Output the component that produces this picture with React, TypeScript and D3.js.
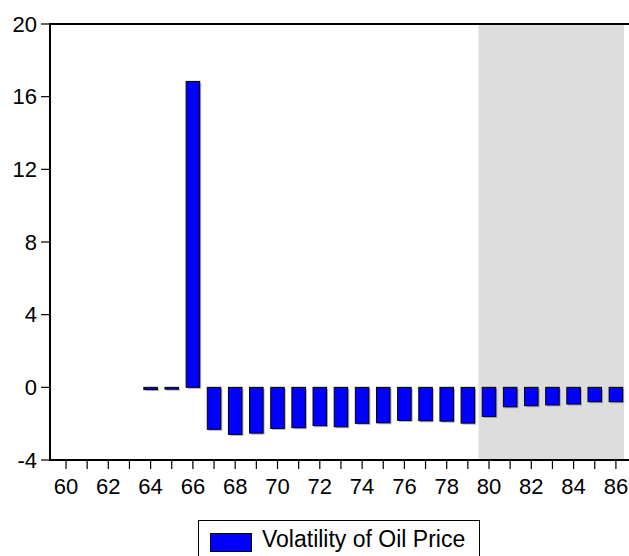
import * as d3 from 'd3';

const years = d3.range(60, 87);
const volatility: (number | null)[] = [
  null, null, null, null, -0.12, -0.1, 16.84, -2.31, -2.59, -2.52,
  -2.26, -2.22, -2.11, -2.17, -1.98, -1.95, -1.82, -1.84, -1.86, -1.97,
  -1.6, -1.07, -1.01, -0.97, -0.92, -0.79, -0.79,
];
const yTicks = [-4, 0, 4, 8, 12, 16, 20];
const xLabelYears = d3.range(60, 87, 2);
const shadeFrom = 80; // forecast period shaded
const seriesName = 'Volatility of Oil Price';

const width = 629;
const height = 556;
const font = '"Liberation Sans", Arial, sans-serif';

const App = () => {
  const left = 50;
  const top = 24;
  const bottom = 460;
  const plotRight = 624;

  const y = d3.scaleLinear().domain([-4, 20]).range([bottom, top]);
  const step = 21.15;
  const x = d3
    .scaleBand<number>()
    .domain(years)
    .range([66 - step / 2, 66 + step * 26 + step / 2])
    .paddingInner(0.36)
    .paddingOuter(0.18);
  const center = (yr: number) => (x(yr) ?? 0) + x.bandwidth() / 2;

  const shadeX = (center(shadeFrom - 1) + center(shadeFrom)) / 2;

  return (
    <svg
      width={width}
      height={height}
      style={{ position: 'absolute', left: 0, top: 0, background: '#fff' }}
      fontFamily={font}
    >
      {/* shaded period */}
      <rect x={shadeX} y={top} width={plotRight - shadeX} height={bottom - top} fill="#dddddd" />

      {/* bars */}
      {years.map((yr, i) => {
        const v = volatility[i];
        if (v == null) return null;
        const y0 = y(Math.max(0, v));
        const h = Math.max(Math.abs(y(v) - y(0)), 1);
        const bx = x(yr) ?? 0;
        return (
          <g key={yr}>
            <rect x={bx + 1.5} y={y0 + 1.5} width={x.bandwidth()} height={h} fill="#7a7a7a" opacity={0.6} />
            <rect x={bx} y={y0} width={x.bandwidth()} height={h} fill="#0000ff" stroke="#000" strokeWidth={1} />
          </g>
        );
      })}

      {/* frame */}
      <line x1={left} x2={width} y1={top} y2={top} stroke="#000" strokeWidth={2} />
      <line x1={left} x2={width} y1={bottom} y2={bottom} stroke="#000" strokeWidth={2} />
      <line x1={left} x2={left} y1={top - 1} y2={bottom + 1} stroke="#000" strokeWidth={2} />

      {/* y axis */}
      {yTicks.map((t) => (
        <g key={t}>
          <line x1={left - 9} x2={left} y1={y(t)} y2={y(t)} stroke="#000" strokeWidth={1.2} />
          <text x={37} y={y(t) + 7.5} textAnchor="end" fontSize={22} fill="#000">
            {t}
          </text>
        </g>
      ))}

      {/* x axis */}
      {years.map((yr) => (
        <line key={yr} x1={center(yr)} x2={center(yr)} y1={bottom} y2={bottom + 9} stroke="#000" strokeWidth={1.2} />
      ))}
      {xLabelYears.map((yr) => (
        <text key={yr} x={center(yr)} y={493.5} textAnchor="middle" fontSize={22} fill="#000">
          {yr}
        </text>
      ))}

      {/* legend */}
      <rect x={198.5} y={520.5} width={281} height={40} fill="#fff" stroke="#000" strokeWidth={1} />
      <rect x={210.5} y={533.5} width={41} height={18} fill="#0000ff" stroke="#000" strokeWidth={1} />
      <text x={262} y={546.5} fontSize={23} fill="#000">
        {seriesName}
      </text>
    </svg>
  );
};

export default App;
